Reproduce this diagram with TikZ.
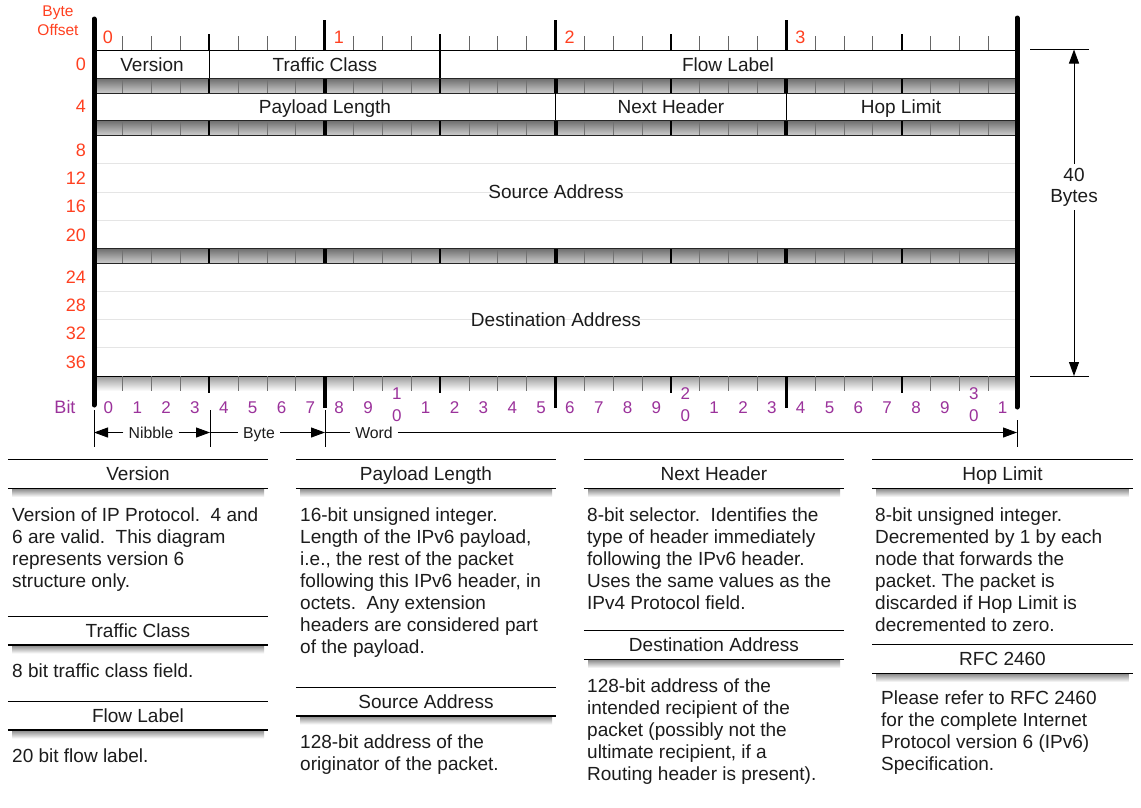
\documentclass[tikz,border=0pt]{standalone}
\usepackage{fontspec}
\setmainfont{Liberation Sans}
\usetikzlibrary{arrows.meta}
\definecolor{offred}{RGB}{255,64,32}
\definecolor{bitpurple}{RGB}{155,50,155}
\definecolor{txt}{RGB}{28,28,28}
\newcommand\grayband[2]{%
  \shade[top color=black!58, bottom color=black!20] (94,#1) rectangle (1017,#2);
  \foreach \k in {1,...,31} \draw[line width=0.9pt, black!55] ({94+28.844*\k},#1) -- ({94+28.844*\k},#2);
  \foreach \k in {4,12,20,28} \draw[line width=2pt] ({94+28.844*\k},#1) -- ({94+28.844*\k},#2);
  \foreach \k in {8,16,24} \draw[line width=4pt] ({94+28.844*\k},#1) -- ({94+28.844*\k},#2);
  \draw[line width=1pt, black!85] (94,#1) -- (1017,#1) (94,#2) -- (1017,#2);
}
\begin{document}\frenchspacing
\begin{tikzpicture}[x=1pt,y=-1pt,
  lbl/.style={text height=13.6pt, text depth=0pt, inner sep=0pt, font=\fontsize{19}{22}\selectfont, text=txt},
  off/.style={text height=12.9pt, text depth=0pt, inner sep=0pt, font=\fontsize{18}{20}\selectfont, text=offred},
  offs/.style={inner sep=0pt, font=\fontsize{15.5}{18}\selectfont, text=offred},
  bitn/.style={text height=12.2pt, text depth=0pt, inner sep=0pt, font=\fontsize{17}{19}\selectfont, text=bitpurple},
  small/.style={text height=11.3pt, text depth=0pt, inner ysep=0pt, inner xsep=5pt, font=\fontsize{15.8}{18}\selectfont, text=txt},
  desc/.style={font=\fontsize{19}{22}\selectfont, text=txt, align=left, anchor=north west, inner sep=0pt},
  hdr/.style={lbl, fill=white, minimum width=260pt, minimum height=28.5pt},
  tri/.style={-{Triangle[length=14pt,width=10pt]}},
]
\useasboundingbox (0,0) rectangle (1141,807);
\fill[white] (0,0) rectangle (1141,807);

% top ruler
\foreach \k in {1,...,31} \draw[line width=0.9pt, black!60] ({94+28.844*\k},36) -- ({94+28.844*\k},50);
\foreach \k in {4,12,20,28} \draw[line width=2pt] ({94+28.844*\k},34) -- ({94+28.844*\k},50);
\foreach \k in {8,16,24} \draw[line width=3pt] ({94+28.844*\k},20) -- ({94+28.844*\k},50);
\foreach \k/\n in {0/0,8/1,16/2,24/3} \node[off] (by\n) at ({108+28.844*\k},37) {\n};
\node[offs, anchor=base] (bo1) at (58,16) {Byte};
\node[offs, anchor=base] (bo2) at (58,35) {Offset};

% white rows
\fill[white] (94,50) rectangle (1017,78);
\draw[line width=1pt] (94,50) -- (1017,50);
\fill[white] (94,93) rectangle (1017,120);
\fill[white] (94,135) rectangle (1017,248);
\fill[white] (94,263) rectangle (1017,376);
\foreach \y in {163,192,220,291,319,347} \draw[line width=1pt, black!10] (94,\y) -- (1017,\y);
\grayband{78}{93}
\grayband{120}{135}
\grayband{248}{263}
% field dividers
\foreach \k in {4,12} \draw[line width=1.5pt] ({94+28.844*\k},50) -- ({94+28.844*\k},78);
\foreach \k in {16,24} \draw[line width=1.5pt] ({94+28.844*\k},93) -- ({94+28.844*\k},120);

\node[lbl] (fver) at (152,64.5) {Version};
\node[lbl] (ftc) at (325,64.5) {Traffic Class};
\node[lbl] (ffl) at (728,64.5) {Flow Label};
\node[lbl] (fpl) at (325,106.5) {Payload Length};
\node[lbl] (fnh) at (671,106.5) {Next Header};
\node[lbl] (fhl) at (901,106.5) {Hop Limit};
\node[lbl] (fsa) at (556,191.5) {Source Address};
\node[lbl] (fda) at (556,320) {Destination Address};

% offsets
\foreach \v/\y in {0/64.5,4/106.5,8/150.5,12/178.5,16/206.5,20/235,24/277,28/305,32/333,36/362}
  \node[off, anchor=east] (o\v) at (86,\y) {\v};

% bottom ruler
\shade[top color=black!40, bottom color=white] (94,376) rectangle (1017,391);
\draw[line width=1pt] (94,376) -- (1017,376);
\foreach \k in {1,...,31} \draw[line width=0.9pt, black!55] ({94+28.844*\k},376) -- ({94+28.844*\k},391);
\foreach \k in {4,12,20,28} \draw[line width=2pt] ({94+28.844*\k},376) -- ({94+28.844*\k},393);
\foreach \k in {8,16,24} \draw[line width=3.5pt] ({94+28.844*\k},376) -- ({94+28.844*\k},408);

% frame bars
\draw[line width=5pt, line cap=round] (94,19) -- (94,405);
\draw[line width=5pt, line cap=round] (1017,18) -- (1017,407);

% bit labels
\node[bitn, text height=13pt, font=\fontsize{18}{20}\selectfont] (bitlbl) at (65,407) {Bit};
\foreach \k in {0,...,31} {
  \pgfmathtruncatemacro\d{mod(\k,10)}
  \pgfmathtruncatemacro\t{int(\k/10)}
  \ifnum\d=0 \ifnum\k>0
    \node[bitn] (bt\k) at ({94+28.844*(\k+0.5)},393) {\t};
    \node[bitn] (b\k) at ({94+28.844*(\k+0.5)},415) {0};
  \else
    \node[bitn] (b\k) at ({94+28.844*(\k+0.5)},407) {\d};
  \fi\else
    \node[bitn] (b\k) at ({94+28.844*(\k+0.5)},407) {\d};
  \fi
}

% nibble / byte / word
\foreach \x in {94,210,325} \draw[line width=1pt] (\x,410) -- (\x,447);
\draw[line width=1pt] (1017,420) -- (1017,447);
\coordinate (n0) at (94,432.5);
\coordinate (n1) at (210,432.5);
\coordinate (n2) at (325,432.5);
\coordinate (n3) at (1017,432.5);
\node[small] (nib) at (151,432.5) {Nibble};
\node[small] (byt) at (259,432.5) {Byte};
\node[small] (wrd) at (374,432.5) {Word};
\draw[tri, line width=1pt] (nib.west) -- (n0);
\draw[tri, line width=1pt] (nib.east) -- (n1);
\draw[line width=1pt] (n1) -- (byt.west);
\draw[tri, line width=1pt] (byt.east) -- (n2);
\draw[line width=1pt] (n2) -- (wrd.west);
\draw[tri, line width=1pt] (wrd.east) -- (n3);

% 40 bytes
\coordinate (t0) at (1030,49.5); \coordinate (t1) at (1089,49.5);
\coordinate (u0) at (1030,376); \coordinate (u1) at (1089,376);
\draw[line width=1pt] (t0) -- (t1);
\draw[line width=1pt] (u0) -- (u1);
\coordinate (ta) at (1074,49.5); \coordinate (ua) at (1074,376);
\node[font=\fontsize{19}{21}\selectfont, text=txt, align=center, inner sep=4pt] (fb) at (1074,187) {40\\Bytes};
\draw[tri, line width=1pt] (fb.north) -- (ta);
\draw[tri, line width=1pt] (fb.south) -- (ua);

% description headers
\foreach \nm/\cx/\cy/\tx in {hver/138/474/Version, htc/138/630.5/Traffic Class, hfl/138/715.5/Flow Label,
  hpl/426/474/Payload Length, hsa/426/701.5/Source Address,
  hnh/714/474/Next Header, hda/714/645/Destination Address,
  hhl/1002.5/474/Hop Limit, hrfc/1002.5/659/RFC 2460} {
  \shade[top color=black!50, bottom color=white] (\cx-126,\cy+14) rectangle (\cx+126,\cy+23);
  \node[hdr] (\nm) at (\cx,\cy) {\tx};
  \draw[line width=0.8pt] (\nm.north west) -- (\nm.north east);
  \draw[line width=1.6pt] (\nm.south west) -- (\nm.south east);
}

% descriptions
\node[desc] (dver) at (12,508) {Version of IP Protocol.\ \ 4 and\\6 are valid.\ \ This diagram\\represents version 6\\structure only.};
\node[desc] (dtc) at (12,664) {8 bit traffic class field.};
\node[desc] (dfl) at (12,749) {20 bit flow label.};
\node[desc] (dpl) at (300,508) {16-bit unsigned integer.\\Length of the IPv6 payload,\\i.e., the rest of the packet\\following this IPv6 header, in\\octets.\ \ Any extension\\headers are considered part\\of the payload.};
\node[desc] (dsa) at (300,735) {128-bit address of the\\originator of the packet.};
\node[desc] (dnh) at (587,508) {8-bit selector.\ \ Identifies the\\type of header immediately\\following the IPv6 header.\\Uses the same values as the\\IPv4 Protocol field.};
\node[desc] (dda) at (587,679) {128-bit address of the\\intended recipient of the\\packet (possibly not the\\ultimate recipient, if a\\Routing header is present).};
\node[desc] (dhl) at (875,508) {8-bit unsigned integer.\\Decremented by 1 by each\\node that forwards the\\packet. The packet is\\discarded if Hop Limit is\\decremented to zero.};
\node[desc] (drfc) at (881,691) {Please refer to RFC 2460\\for the complete Internet\\Protocol version 6 (IPv6)\\Specification.};
\end{tikzpicture}
\end{document}
